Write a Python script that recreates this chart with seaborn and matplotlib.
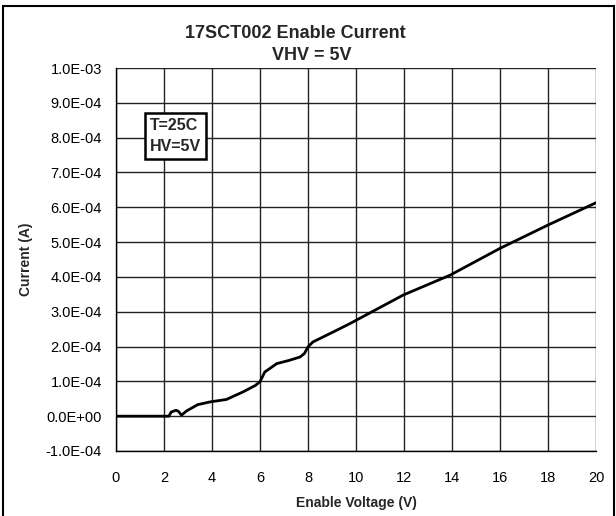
import matplotlib
matplotlib.use("Agg")
import matplotlib.pyplot as plt
import seaborn as sns
import pandas as pd
from matplotlib.patches import Rectangle

voltage = [0, 2.2, 2.3, 2.5, 2.6, 2.73, 2.94, 3.4, 3.92, 4.6, 5.3, 5.8, 6.0, 6.2,
           6.7, 7.2, 7.67, 7.85, 8.0, 8.2, 9.2, 9.75, 11.97, 13.92, 16.0, 18.0, 20.0]
current = [0, 0, 0.12e-4, 0.17e-4, 0.14e-4, 0.03e-4, 0.15e-4, 0.33e-4, 0.41e-4,
           0.48e-4, 0.70e-4, 0.88e-4, 0.99e-4, 1.27e-4, 1.51e-4, 1.60e-4, 1.70e-4,
           1.80e-4, 1.99e-4, 2.13e-4, 2.47e-4, 2.66e-4, 3.48e-4, 4.05e-4, 4.82e-4,
           5.49e-4, 6.13e-4]
x_ticks = [0, 2, 4, 6, 8, 10, 12, 14, 16, 18, 20]
y_ticks = [-1e-4, 0, 1e-4, 2e-4, 3e-4, 4e-4, 5e-4, 6e-4, 7e-4, 8e-4, 9e-4, 1e-3]
y_labels = ["-1.0E-04", "0.0E+00", "1.0E-04", "2.0E-04", "3.0E-04", "4.0E-04",
            "5.0E-04", "6.0E-04", "7.0E-04", "8.0E-04", "9.0E-04", "1.0E-03"]

sns.set_style("white")
plt.rcParams['font.family'] = ['Liberation Sans', 'DejaVu Sans']

df = pd.DataFrame({"V": voltage, "I": current})

fig = plt.figure(figsize=(6.16, 5.16), dpi=100)
ax = fig.add_axes([116/616, 65/516, 480/616, 383/516])

sns.lineplot(data=df, x="V", y="I", ax=ax, color="black", linewidth=2.0)

ax.set_xlim(0, 20)
ax.set_ylim(-1e-4, 1e-3)
ax.set_xticks(x_ticks)
ax.set_xticklabels([str(t) for t in x_ticks])
ax.set_yticks(y_ticks)
ax.set_yticklabels(y_labels)
ax.grid(True, color="#222222", linewidth=1.0)
ax.set_axisbelow(True)
for s in ax.spines.values():
    s.set_color("black")
    s.set_linewidth(1.0)
ax.spines['top'].set_visible(False)
ax.spines['right'].set_visible(False)
ax.tick_params(axis='x', direction='inout', length=9, width=1, colors='black',
               labelsize=10.5, pad=10)
ax.tick_params(axis='y', direction='out', length=6, width=1, colors='black',
               labelsize=10.5, pad=4)
ax.set_xlabel("Enable Voltage (V)", fontsize=10, fontweight='bold', labelpad=8)
ax.set_ylabel("Current (A)", fontsize=10, fontweight='bold', labelpad=9)

fig.text(295/616, 1 - 33/516, "17SCT002 Enable Current", fontsize=13,
         fontweight='bold', ha='center', va='center')
fig.text(312/616, 1 - 55/516, "VHV = 5V", fontsize=13,
         fontweight='bold', ha='center', va='center')

ax.text(0.07, 0.822, "T=25C\nHV=5V", transform=ax.transAxes, fontsize=11.5,
        fontweight='bold', va='center', ha='left', linespacing=1.5,
        bbox=dict(boxstyle='square,pad=0.3', facecolor='white', edgecolor='black',
                  linewidth=1.8))

fig.patches.append(Rectangle((3/616, -0.01), 611/616, 1 - 6/516 + 0.01,
                             transform=fig.transFigure,
                             fill=False, edgecolor='black', linewidth=1.5))

fig.savefig("out.png", dpi=100)
